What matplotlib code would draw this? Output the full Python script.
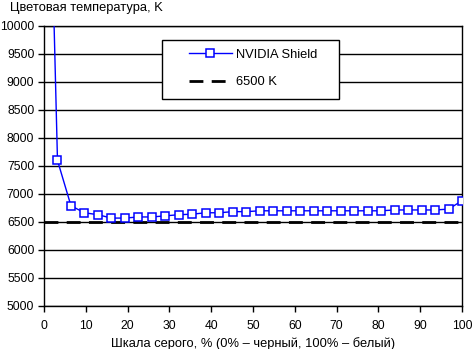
import numpy as np
import matplotlib
matplotlib.use("Agg")
import matplotlib.pyplot as plt
from matplotlib.patches import Rectangle

# Grey scale level (%) and measured colour temperature (K)
gray_level = [i * 100 / 31 for i in range(32)]
shield_temp = [17200, 7600, 6790, 6665, 6630, 6570, 6570, 6590, 6590, 6610,
               6630, 6640, 6665, 6665, 6685, 6685, 6700, 6700, 6700, 6700,
               6700, 6700, 6700, 6700, 6700, 6700, 6715, 6715, 6715, 6715,
               6730, 6880]
reference_temp = 6500

series_label = "NVIDIA Shield"
reference_label = "6500 K"
y_title = "Цветовая температура, K"
x_title = "Шкала серого, % (0% – черный, 100% – белый)"

plt.rcParams['font.family'] = ['Liberation Sans', 'DejaVu Sans']
FS = 9.3
TICK_FS = 8.7
W, H = 472, 349

fig = plt.figure(figsize=(W / 100, H / 100), dpi=100)
ax = fig.add_axes([44 / W, 1 - 306 / H, 418 / W, 280 / H])

line_s, = ax.plot(gray_level, shield_temp, color='#0000ff', lw=1.0, marker='s',
                  markersize=5.6, markerfacecolor='white', markeredgecolor='#0000ff',
                  markeredgewidth=1.1, zorder=3)
line_r = ax.axhline(reference_temp, color='black', lw=2.0, dashes=(5, 3), zorder=2)

ax.set_xlim(0, 100)
ax.set_ylim(5000, 10000)
ax.set_xticks(np.arange(0, 101, 10))
ax.set_yticks(np.arange(5000, 10001, 500))
ax.yaxis.grid(True, color='black', lw=1.0)
ax.set_axisbelow(True)
ax.tick_params(axis='both', direction='out', length=4, width=1,
               labelsize=TICK_FS, colors='black')
ax.tick_params(axis='x', pad=6)
ax.tick_params(axis='y', pad=3)
for s in ax.spines.values():
    s.set_linewidth(1.0)
    s.set_color('black')

ax.set_xlabel(x_title, fontsize=FS, labelpad=4)
fig.text(10 / W, 1 - 8 / H, y_title, fontsize=FS, va='center', ha='left')

# Legend box drawn over the grid, entries placed inside it
fig.patches.append(Rectangle((162 / W, 1 - 99 / H), 177 / W, 59 / H,
                             transform=fig.transFigure, facecolor='white',
                             edgecolor='black', lw=1.0, zorder=2))
leg = fig.legend([line_s, line_r], [series_label, reference_label],
                 loc='upper left', bbox_to_anchor=(189 / W, 1 - 48.5 / H),
                 fontsize=FS, frameon=False, handlelength=3.3,
                 handletextpad=0.35, borderpad=0, labelspacing=1.2,
                 borderaxespad=0)
leg.set_zorder(5)

fig.savefig("out.png", dpi=100)
